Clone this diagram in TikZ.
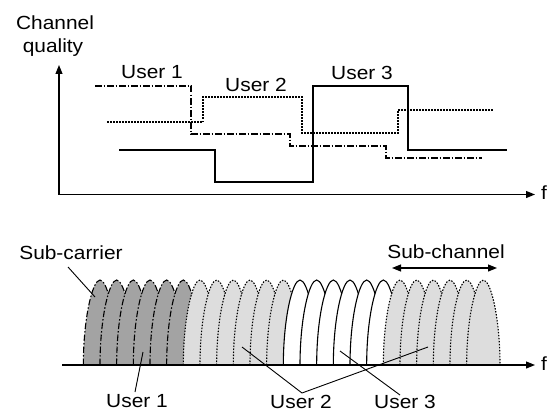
\documentclass[tikz,border=0pt]{standalone}
\usepackage{fontspec}
\setmainfont[FakeStretch=1.1]{Liberation Sans}
\usetikzlibrary{arrows.meta}
\definecolor{darkfill}{RGB}{163,163,163}
\definecolor{lightfill}{RGB}{221,221,221}
\tikzset{
  lbl/.style={font=\fontsize{19}{22}\selectfont, inner sep=0pt},
  axisline/.style={line width=1.1pt, -{Triangle[length=9pt,width=7pt]}},
  dashdot/.style={line width=1.1pt, dash pattern=on 6.5pt off 2pt on 1.5pt off 2pt},
  dots/.style={line width=1.1pt, dash pattern=on 1.5pt off 1.5pt},
  plain/.style={line width=1.1pt},
  leader/.style={line width=0.9pt},
  span/.style={line width=1.1pt, {Triangle[length=9pt,width=7pt]}-{Triangle[length=9pt,width=7pt]}},
}
% one sub-carrier lobe: left foot x, half width 16.667, height 85, baseline y 365
\newcommand\sublobe[2]{%
  \draw[#2] (#1,365)
    .. controls (#1,318) and ({#1+16.667*0.55},280) .. ({#1+16.667},280)
    .. controls ({#1+16.667*1.45},280) and ({#1+33.333},318) .. ({#1+33.333},365)
    -- cycle;}
\begin{document}
\begin{tikzpicture}[x=1pt,y=-1pt]
\useasboundingbox (0,0) rectangle (549,412);

% ---------- channel quality versus frequency ----------
\coordinate (org) at (59,194.5);
\coordinate (ytip) at (59,65);
\coordinate (xtip) at (535,194.5);
\draw[axisline] (org) -- (ytip);
\draw[axisline] (org) -- (xtip);
\node[lbl, anchor=west] (fa) at (541,193) {f};
\node[lbl] (chan) at (55,23) {Channel};
\node[lbl] (qual) at (53,48) {quality};

\draw[dashdot] (95,86) -| (191,134) -| (290,146) -| (386,158) -- (482,158);
\draw[dots] (107,122) -| (203,97) -| (302,133) -| (398,110) -- (494,110);
\draw[plain] (119,150) -| (215,182) -| (313,86) -| (408,150) -- (507,150);

\node[lbl] (ua) at (152,72) {User 1};
\node[lbl] (ub) at (256,85) {User 2};
\node[lbl] (uc) at (362,73) {User 3};

% ---------- sub-carrier allocation ----------
\foreach \i in {0,...,5}  {\sublobe{83.333+16.667*\i}{dashdot,fill=darkfill}}
\foreach \i in {6,...,11} {\sublobe{83.333+16.667*\i}{dots,fill=lightfill}}
\foreach \i in {12,...,17}{\sublobe{83.333+16.667*\i}{plain,fill=white}}
\foreach \i in {18,...,23}{\sublobe{83.333+16.667*\i}{dots,fill=lightfill}}

\coordinate (b0) at (62,365);
\coordinate (btip) at (535,365);
\draw[axisline] (b0) -- (btip);
\node[lbl, anchor=west] (fb) at (541,364) {f};

\node[lbl] (subc) at (71,253) {Sub-carrier};
\coordinate (subcA) at (68,267);
\coordinate (subcB) at (95,297);
\draw[leader] (subcA) -- (subcB);

\node[lbl] (subch) at (446,252) {Sub-channel};
\coordinate (chL) at (392,268);
\coordinate (chR) at (497,268);
\draw[span] (chL) -- (chR);

\node[lbl] (la) at (137,401.5) {User 1};
\node[lbl] (lb) at (301,401.5) {User 2};
\node[lbl] (lc) at (405,401.5) {User 3};

\coordinate (laA) at (135,392);
\coordinate (laB) at (143,352);
\draw[leader] (laA) -- (laB);

\coordinate (lbV) at (302,393);
\coordinate (lbL) at (242,347);
\coordinate (lbR) at (428,347);
\draw[leader] (lbL) -- (lbV) -- (lbR);

\coordinate (lcA) at (400,395);
\coordinate (lcB) at (340,351);
\draw[leader] (lcA) -- (lcB);
\end{tikzpicture}
\end{document}
